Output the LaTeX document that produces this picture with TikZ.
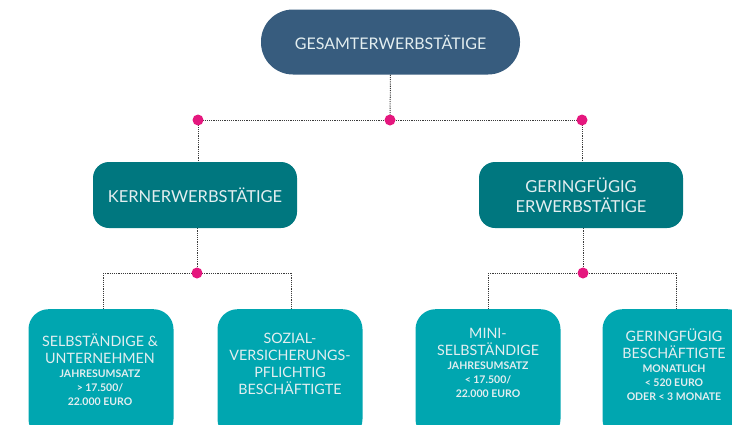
\documentclass[tikz,border=0pt]{standalone}
\usepackage{fontspec}
\setmainfont{Lato}
\usetikzlibrary{backgrounds}
\definecolor{topc}{HTML}{375C7E}
\definecolor{midc}{HTML}{00777F}
\definecolor{botc}{HTML}{00A6B0}
\definecolor{dotc}{HTML}{E5177E}
\definecolor{txtc}{HTML}{E3EEF0}
\definecolor{linec}{HTML}{3A3A3A}
\newcommand{\smtxt}{\fontsize{10.5}{13}\bfseries\selectfont}
\begin{document}
\begin{tikzpicture}[x=1pt,y=-1pt,
 topbox/.style={fill=topc, rounded corners=32pt, minimum width=259pt, minimum height=65pt, text=txtc, font=\fontsize{16}{20}\selectfont, inner sep=0pt},
 midbox/.style={fill=midc, rounded corners=16pt, minimum width=204pt, minimum height=66pt, text=txtc, align=center, font=\fontsize{16.5}{20}\selectfont, inner sep=0pt},
 botbox/.style={fill=botc, rounded corners=20pt, minimum width=145pt, minimum height=130pt, anchor=north, inner sep=0pt},
 bottext/.style={text=txtc, align=center, font=\fontsize{14.3}{17}\selectfont, inner sep=0pt},
 junc/.style={circle, fill=dotc, minimum size=11pt, inner sep=0pt},
 conn/.style={draw=linec, line width=1pt, dash pattern=on 1.1pt off 1.1pt}
]
\useasboundingbox (0,0) rectangle (732,424);
\clip (0,0) rectangle (732,424);

\node[topbox] (gesamt) at (390.5,42) {GESAMTERWERBSTÄTIGE};
\node[midbox] (kern) at (195,195) {KERNERWERBSTÄTIGE};
\node[midbox] (gering) at (581,195) {GERINGFÜGIG\\ERWERBSTÄTIGE};

\node[junc] (j0) at (390,120) {};
\node[junc] (j1) at (198,120) {};
\node[junc] (j2) at (582,120) {};
\node[junc] (k0) at (197,273) {};
\node[junc] (g0) at (583,273) {};
\coordinate (k1) at (103,273);
\coordinate (k2) at (291,273);
\coordinate (g1) at (488,273);
\coordinate (g2) at (676,273);

\node[botbox] (b1) at (101,309) {};
\node[botbox] (b2) at (290,309) {};
\node[botbox] (b3) at (488,309) {};
\node[botbox] (b4) at (675,309) {};

\node[bottext] (t1) at (100,370) {SELBSTÄNDIGE \&\\UNTERNEHMEN\\[-3pt]{\smtxt JAHRESUMSATZ}\\[-3pt]{\smtxt > 17.500/}\\[-3pt]{\smtxt 22.000 EURO}};
\node[bottext] (t2) at (290,363.5) {SOZIAL-\\VERSICHERUNGS-\\PFLICHTIG\\BESCHÄFTIGTE};
\node[bottext] (t3) at (488,363) {MINI-\\SELBSTÄNDIGE\\[-3pt]{\smtxt JAHRESUMSATZ}\\[-3pt]{\smtxt < 17.500/}\\[-3pt]{\smtxt 22.000 EURO}};
\node[bottext] (t4) at (674,364.5) {GERINGFÜGIG\\BESCHÄFTIGTE\\[-3pt]{\smtxt MONATLICH}\\[-3pt]{\smtxt < 520 EURO}\\[-3pt]{\smtxt ODER < 3 MONATE}};

\begin{pgfonlayer}{background}
\draw[conn] (gesamt.south) -- (j0.center);
\draw[conn] (j1.center) -- (j0.center) -- (j2.center);
\draw[conn] (j1.center) -- (j1 |- kern.north);
\draw[conn] (j2.center) -- (j2 |- gering.north);
\draw[conn] (kern.south -| k0) -- (k0.center);
\draw[conn] (gering.south -| g0) -- (g0.center);
\draw[conn] (k1) -- (k2);
\draw[conn] (k1) -- (k1 |- b1.north);
\draw[conn] (k2) -- (k2 |- b2.north);
\draw[conn] (g1) -- (g2);
\draw[conn] (g1) -- (g1 |- b3.north);
\draw[conn] (g2) -- (g2 |- b4.north);
\end{pgfonlayer}
\end{tikzpicture}
\end{document}
